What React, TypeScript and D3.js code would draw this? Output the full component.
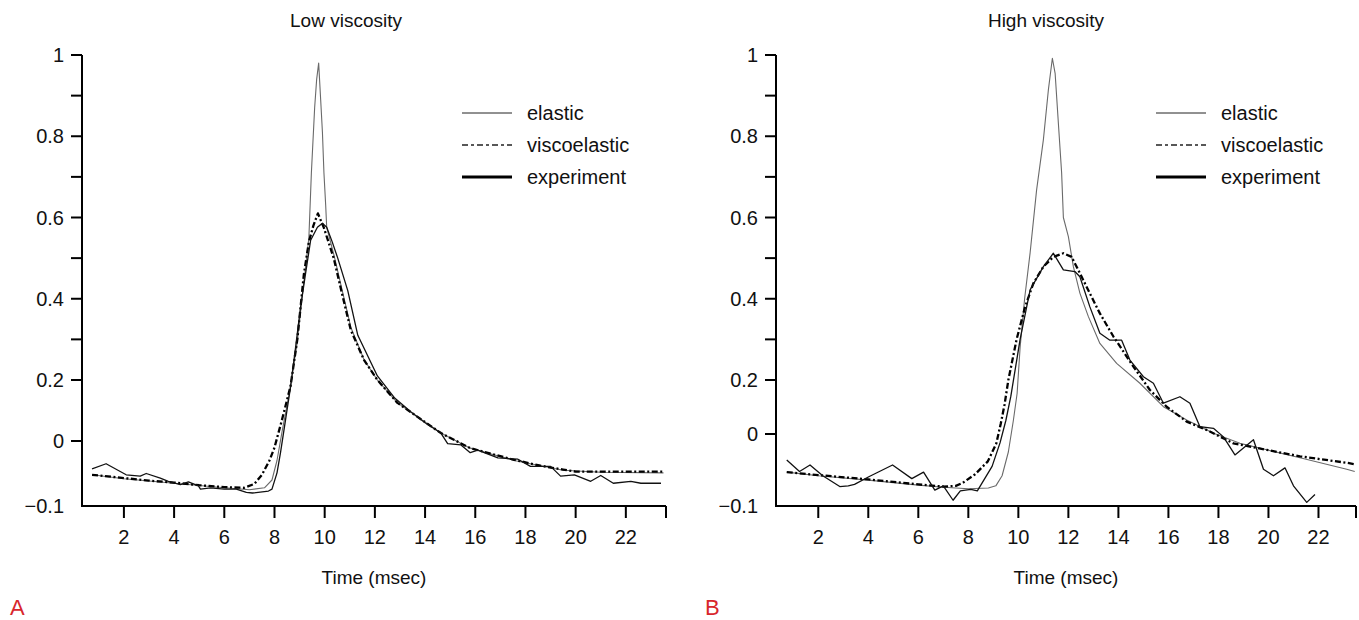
import React from "react";
import * as d3 from "d3";

type Pt = [number, number];

// time (msec), normalized value
const lowElastic: Pt[] = [[0.73,-0.052],[2,-0.058],[4,-0.065],[6,-0.072],[7,-0.075],[7.6,-0.072],[7.9,-0.06],[8.1,-0.03],[8.3,0.03],[8.6,0.16],[8.9,0.29],[9.15,0.43],[9.37,0.55],[9.47,0.71],[9.6,0.87],[9.68,0.94],[9.76,0.98],[9.84,0.89],[9.91,0.81],[9.97,0.71],[10.04,0.63],[10.08,0.576],[10.36,0.51],[10.7,0.42],[11.04,0.33],[11.57,0.25],[12.1,0.2],[12.9,0.125],[13.7,0.079],[14.63,0.026],[15.8,-0.011],[17.55,-0.03],[19.5,-0.045],[21,-0.048],[23.5,-0.049]];
const lowVisco: Pt[] = [[0.73,-0.052],[2,-0.057],[3,-0.061],[4,-0.064],[5,-0.068],[6,-0.071],[6.8,-0.072],[7.2,-0.066],[7.5,-0.052],[7.8,-0.03],[8.0,-0.01],[8.3,0.07],[8.64,0.18],[8.91,0.30],[9.17,0.46],[9.37,0.54],[9.55,0.58],[9.73,0.61],[9.96,0.576],[10.36,0.50],[10.7,0.41],[11.04,0.323],[11.57,0.249],[12.1,0.2],[12.9,0.125],[13.7,0.079],[14.63,0.026],[15.8,-0.011],[17.55,-0.029],[18.6,-0.038],[19.5,-0.044],[20.0,-0.047],[23.5,-0.047]];
const lowExperiment: Pt[] = [[0.73,-0.043],[1.29,-0.035],[2.09,-0.052],[2.65,-0.054],[2.89,-0.05],[3.45,-0.057],[3.77,-0.062],[4.25,-0.067],[4.57,-0.063],[4.97,-0.069],[5.05,-0.074],[5.45,-0.072],[6.0,-0.074],[6.48,-0.074],[6.88,-0.079],[7.12,-0.08],[7.76,-0.077],[7.9,-0.074],[8.1,-0.049],[8.24,-0.018],[8.44,0.069],[8.64,0.177],[8.84,0.28],[9.04,0.38],[9.24,0.463],[9.44,0.544],[9.71,0.576],[9.91,0.586],[10.08,0.576],[10.3,0.54],[10.52,0.5],[10.92,0.42],[11.32,0.31],[12.1,0.21],[12.8,0.14],[13.43,0.096],[14.0,0.06],[14.63,0.026],[14.9,-0.004],[15.43,-0.006],[15.8,-0.018],[16.1,-0.014],[16.9,-0.026],[17.7,-0.028],[18.2,-0.039],[19.0,-0.039],[19.4,-0.054],[19.95,-0.052],[20.6,-0.062],[21.0,-0.053],[21.5,-0.065],[22.2,-0.062],[22.6,-0.065],[23.4,-0.065]];

const highElastic: Pt[] = [[0.74,-0.053],[2,-0.058],[4,-0.064],[6,-0.071],[7,-0.074],[8,-0.076],[8.8,-0.075],[9.1,-0.072],[9.35,-0.058],[9.6,-0.025],[9.8,0.05],[9.95,0.15],[10.07,0.28],[10.25,0.4],[10.47,0.513],[10.73,0.668],[11.0,0.791],[11.2,0.914],[11.36,0.992],[11.47,0.955],[11.6,0.832],[11.73,0.71],[11.8,0.6],[12.0,0.553],[12.2,0.479],[12.46,0.414],[12.8,0.356],[13.26,0.29],[13.93,0.241],[14.86,0.188],[15.8,0.101],[16.73,0.052],[17.8,0.003],[18.86,-0.013],[19.93,-0.022],[21.26,-0.033],[23.13,-0.049],[23.45,-0.052]];
const highVisco: Pt[] = [[0.74,-0.053],[2,-0.057],[4,-0.063],[6,-0.07],[7,-0.073],[7.5,-0.072],[7.77,-0.068],[8.27,-0.056],[8.78,-0.038],[9.12,-0.013],[9.3,0.04],[9.45,0.11],[9.6,0.2],[9.93,0.3],[10.27,0.38],[10.6,0.438],[11.0,0.479],[11.4,0.503],[11.8,0.512],[12.13,0.503],[12.46,0.463],[12.86,0.413],[13.26,0.364],[13.8,0.307],[14.6,0.233],[15.26,0.163],[15.93,0.101],[16.73,0.046],[17.53,0.015],[18.6,-0.013],[19.93,-0.022],[21.26,-0.031],[23.13,-0.04],[23.45,-0.042]];
const highExperiment: Pt[] = [[0.74,-0.036],[1.25,-0.052],[1.67,-0.043],[2.18,-0.058],[2.86,-0.073],[3.2,-0.072],[3.45,-0.07],[4.04,-0.059],[4.97,-0.043],[5.74,-0.062],[6.21,-0.053],[6.66,-0.078],[7.0,-0.072],[7.39,-0.092],[7.68,-0.079],[8.1,-0.077],[8.36,-0.079],[8.95,-0.045],[9.27,-0.012],[9.5,0.05],[9.7,0.14],[10.07,0.3],[10.47,0.422],[11.0,0.479],[11.4,0.512],[11.8,0.471],[12.26,0.467],[12.46,0.454],[12.86,0.38],[13.26,0.315],[13.66,0.298],[14.13,0.298],[14.46,0.249],[15.0,0.208],[15.4,0.188],[15.8,0.114],[16.46,0.138],[16.86,0.114],[17.26,0.027],[17.8,0.021],[18.2,-0.004],[18.66,-0.029],[19.4,-0.008],[19.8,-0.049],[20.2,-0.058],[20.66,-0.047],[21.0,-0.072],[21.53,-0.095],[21.86,-0.084]];

const xTicks = [2, 4, 6, 8, 10, 12, 14, 16, 18, 20, 22];
const yMajorTicks = [1, 0.8, 0.6, 0.4, 0.2, 0, -0.1];
const yTickLabels = ["1", "0.8", "0.6", "0.4", "0.2", "0", "\u22120.1"];
const yMinorTicks = [0.9, 0.7, 0.5, 0.3];
const legendLabels = ["elastic", "viscoelastic", "experiment"];
const panelTitles = ["Low viscosity", "High viscosity"];
const panelLetters = ["A", "B"];
const xTitle = "Time (msec)";

const FONT = "'Liberation Sans', Arial, Helvetica, sans-serif";

const styles = [
  { stroke: "#6a6a6a", width: 1.1, dash: undefined as string | undefined },
  { stroke: "#000", width: 2.3, dash: "6,2.5,2,2.5" },
  { stroke: "#111", width: 1.3, dash: undefined as string | undefined },
];
const legendStyles = [
  { stroke: "#222", width: 1, dash: undefined as string | undefined },
  { stroke: "#222", width: 1.3, dash: "6,3,3,3" },
  { stroke: "#000", width: 2.8, dash: undefined as string | undefined },
];

const panels = [
  { x0: 82, x1: 666, xDomain: [0.33, 23.6], yRange: [506, 441, 380, 55], titleX: 346, letterX: 10, series: [lowElastic, lowVisco, lowExperiment] },
  { x0: 776, x1: 1356, xDomain: [0.31, 23.5], yRange: [506, 434, 380, 55], titleX: 1046, letterX: 705, series: [highElastic, highVisco, highExperiment] },
];

function Panel({ p, i }: { p: typeof panels[number]; i: number }) {
  const x = d3.scaleLinear().domain(p.xDomain).range([p.x0, p.x1]);
  const y = d3.scaleLinear().domain([-0.1, 0, 0.2, 1]).range(p.yRange);
  const line = d3.line<Pt>().x((d) => x(d[0])).y((d) => y(d[1]));
  const axisY = y(-0.1);
  const top = y(1);
  return (
    <g>
      <text x={p.titleX} y={20} dy="0.36em" textAnchor="middle" fontFamily={FONT} fontSize={19} fill="#111">{panelTitles[i]}</text>
      <path d={`M${p.x0},${top}V${axisY}H${p.x1}`} fill="none" stroke="#000" strokeWidth={2} />
      {yMajorTicks.map((t, k) => (
        <g key={"ym" + k}>
          {t > -0.1 && <line x1={p.x0 - 11} x2={p.x0} y1={y(t)} y2={y(t)} stroke="#000" strokeWidth={2} />}
          <text x={p.x0 - 18} y={y(t)} dy="0.36em" textAnchor="end" fontFamily={FONT} fontSize={20} fill="#111">{yTickLabels[k]}</text>
        </g>
      ))}
      {yMinorTicks.map((t, k) => (
        <line key={"yn" + k} x1={p.x0 - 11} x2={p.x0} y1={y(t)} y2={y(t)} stroke="#000" strokeWidth={2} />
      ))}
      {xTicks.map((t) => (
        <g key={"x" + t}>
          <line x1={x(t)} x2={x(t)} y1={axisY} y2={axisY + 12} stroke="#000" strokeWidth={2} />
          <text x={x(t)} y={537} dy="0.36em" textAnchor="middle" fontFamily={FONT} fontSize={20} fill="#111">{t}</text>
        </g>
      ))}
      <line x1={p.x1} x2={p.x1} y1={axisY} y2={axisY + 12} stroke="#000" strokeWidth={2} />
      <text x={(p.x0 + p.x1) / 2} y={577} dy="0.36em" textAnchor="middle" fontFamily={FONT} fontSize={19} fill="#111">{xTitle}</text>
      {p.series.map((s, k) => (
        <path key={"s" + k} d={line(s) || ""} fill="none" stroke={styles[k].stroke} strokeWidth={styles[k].width} strokeDasharray={styles[k].dash} strokeLinejoin="round" />
      ))}
      {legendLabels.map((lab, k) => {
        const ly = 113 + k * 32;
        return (
          <g key={"l" + k}>
            <line x1={p.x0 + 380} x2={p.x0 + 430} y1={ly} y2={ly} stroke={legendStyles[k].stroke} strokeWidth={legendStyles[k].width} strokeDasharray={legendStyles[k].dash} />
            <text x={p.x0 + 445} y={ly} dy="0.36em" fontFamily={FONT} fontSize={20} fill="#111">{lab}</text>
          </g>
        );
      })}
      <text x={p.letterX} y={607} dy="0.36em" fontFamily={FONT} fontSize={22} fill="#d8262c">{panelLetters[i]}</text>
    </g>
  );
}

export default function App() {
  return (
    <svg width={1359} height={620} viewBox="0 0 1359 620" style={{ position: "absolute", left: 0, top: 0, background: "#fff" }}>
      <rect x={0} y={0} width={1359} height={620} fill="#fff" />
      {panels.map((p, i) => (
        <Panel key={i} p={p} i={i} />
      ))}
    </svg>
  );
}
